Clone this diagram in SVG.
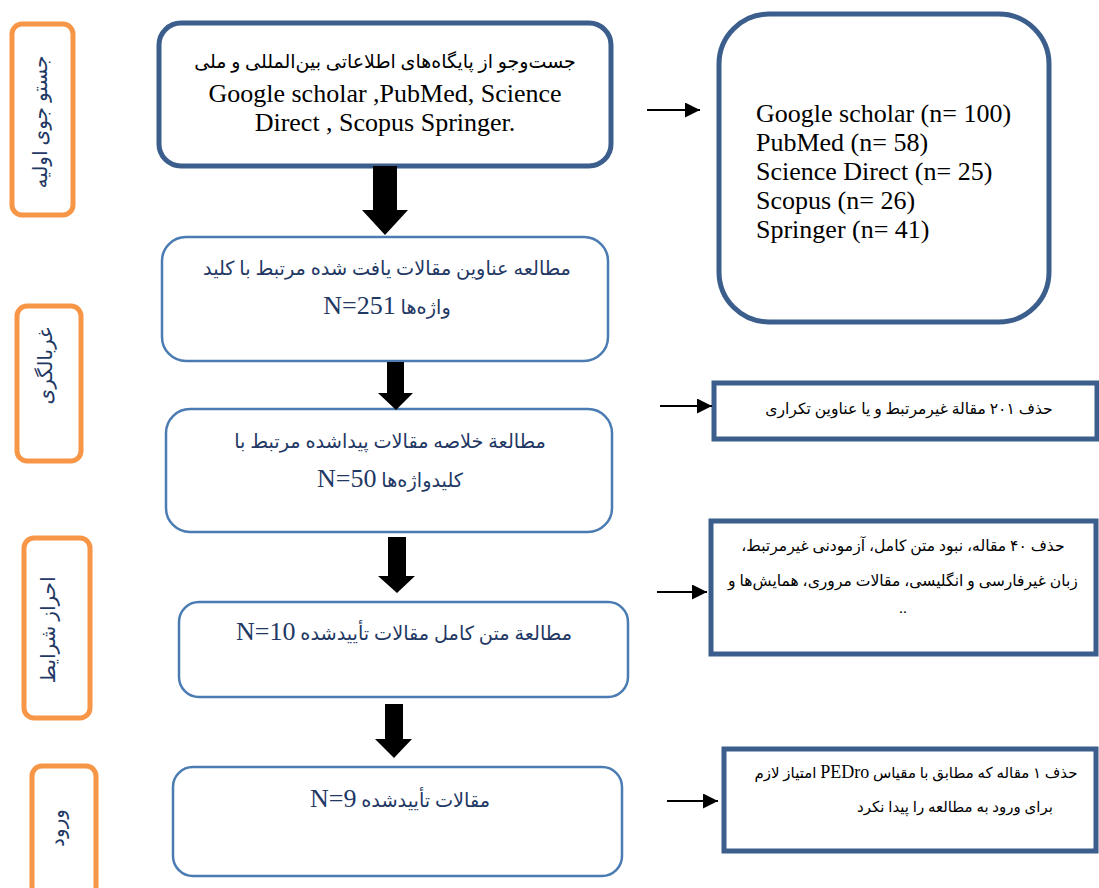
<svg xmlns="http://www.w3.org/2000/svg" width="1099" height="888" viewBox="0 0 1099 888">
<style>
.lbl{fill:#fff;stroke:#F79646;stroke-width:5}
.lt{font-family:"Liberation Serif","DejaVu Sans",sans-serif;font-size:20px;fill:#1F3864;text-anchor:middle;direction:rtl}
.mainA{fill:#fff;stroke:#3B5E8C;stroke-width:5}
.main{fill:#fff;stroke:#4A7CB3;stroke-width:2.5}
.side{fill:#fff;stroke:#3B5E8C;stroke-width:5}
.fa{font-family:"Liberation Serif","DejaVu Sans",sans-serif;text-anchor:middle;direction:rtl}
.en{font-family:"Liberation Serif","Times New Roman",serif}
.blk{fill:#000}
.blue{fill:#1F3864}
.thin{stroke:#000;stroke-width:2;fill:none}
</style>
<defs>
<marker id="ah" viewBox="0 0 10 10" refX="10" refY="5" markerWidth="17" markerHeight="15" markerUnits="userSpaceOnUse" orient="auto">
<path d="M0,0 L10,5 L0,10 z" fill="#000"/>
</marker>
</defs>
<g id="label-search">
<rect class="lbl" x="12" y="24" width="61" height="191" rx="10"/>
<text class="lt" transform="translate(47,122) rotate(-90)">جستو جوی اولیه</text>
</g>
<g id="label-screening">
<rect class="lbl" x="17" y="306" width="64" height="155" rx="10"/>
<text class="lt" transform="translate(52,366) rotate(-90)">غربالگری</text>
</g>
<g id="label-eligibility">
<rect class="lbl" x="24" y="538" width="66" height="180" rx="10"/>
<text class="lt" transform="translate(55,630) rotate(-90)">احراز شرایط</text>
</g>
<g id="label-included">
<rect class="lbl" x="32" y="766" width="64" height="140" rx="10"/>
<text class="lt" transform="translate(64,828) rotate(-90)">ورود</text>
</g>
<g id="node-search">
<rect class="mainA" x="159" y="23" width="452" height="143" rx="22"/>
<text class="fa blk" x="385" y="68" font-size="19">جست‌وجو از پایگاه‌های اطلاعاتی بین‌المللی و ملی</text>
<text class="en blk" x="385" y="102" font-size="26" text-anchor="middle">Google scholar ,PubMed, Science</text>
<text class="en blk" x="385" y="131" font-size="26" text-anchor="middle">Direct , Scopus Springer.</text>
</g>
<g id="node-databases">
<rect class="side" x="719" y="14" width="330" height="308" rx="50"/>
<text class="en blk" x="756" y="122" font-size="26">Google scholar (n= 100)</text>
<text class="en blk" x="756" y="151" font-size="26">PubMed (n= 58)</text>
<text class="en blk" x="756" y="180" font-size="26">Science Direct (n= 25)</text>
<text class="en blk" x="756" y="209" font-size="26">Scopus (n= 26)</text>
<text class="en blk" x="756" y="238" font-size="26">Springer (n= 41)</text>
</g>
<g id="node-titles">
<rect class="main" x="162" y="237" width="446" height="124" rx="24"/>
<text class="fa blue" x="387" y="275" font-size="19.3">مطالعه عناوین مقالات یافت شده مرتبط با کلید</text>
<text class="fa blue" x="387" y="314" font-size="19.3">واژه‌ها <tspan font-size="26">N=251</tspan></text>
</g>
<g id="node-abstracts">
<rect class="main" x="166" y="409" width="446" height="123" rx="24"/>
<text class="fa blue" x="390" y="448" font-size="19.3">مطالعة خلاصه مقالات پیداشده مرتبط با</text>
<text class="fa blue" x="390" y="487" font-size="19.3">کلیدواژه‌ها <tspan font-size="26">N=50</tspan></text>
</g>
<g id="node-fulltext">
<rect class="main" x="179" y="602" width="449" height="95" rx="20"/>
<text class="fa blue" x="404" y="640" font-size="19.3">مطالعة متن کامل مقالات تأییدشده <tspan font-size="26">N=10</tspan></text>
</g>
<g id="node-included">
<rect class="main" x="173" y="767" width="449" height="109" rx="20"/>
<text class="fa blue" x="400" y="807" font-size="19.3">مقالات تأییدشده <tspan font-size="26">N=9</tspan></text>
</g>
<g id="node-excl1">
<rect class="side" x="714" y="383" width="383" height="56"/>
<text class="fa blk" x="909" y="414" font-size="15.6">حذف ۲۰۱ مقالة غیرمرتبط و یا عناوین تکراری</text>
</g>
<g id="node-excl2">
<rect class="side" x="711" y="521" width="385" height="133"/>
<text class="fa blk" x="903" y="551" font-size="15.6">حذف ۴۰ مقاله، نبود متن کامل، آزمودنی غیرمرتبط،</text>
<text class="fa blk" x="903" y="586" font-size="15.6">زبان غیرفارسی و انگلیسی، مقالات مروری، همایش‌ها و</text>
<text class="fa blk" x="903" y="613" font-size="15.6">..</text>
</g>
<g id="node-excl3">
<rect class="side" x="724" y="749" width="372" height="102"/>
<text class="fa blk" x="916" y="778" font-size="15">حذف ۱ مقاله که مطابق با مقیاس <tspan font-size="18">PEDro</tspan> امتیاز لازم</text>
<text class="fa blk" x="955" y="812" font-size="15">برای ورود به مطالعه را پیدا نکرد</text>
</g>
<g id="connectors">
<path class="blk" d="M373,166 H397 V210 H408 L385,235 L362,210 H373 Z"/>
<path class="blk" d="M387,362 H404 V393 H413 L396,410 L378,393 H387 Z"/>
<path class="blk" d="M388,537 H406 V576 H415 L397,593 L378,576 H388 Z"/>
<path class="blk" d="M385,704 H403 V739 H412 L394,758 L375,739 H385 Z"/>
<line class="thin" x1="647" y1="110" x2="700" y2="110" marker-end="url(#ah)"/>
<line class="thin" x1="660" y1="406" x2="712" y2="406" marker-end="url(#ah)"/>
<line class="thin" x1="657" y1="592" x2="707" y2="592" marker-end="url(#ah)"/>
<line class="thin" x1="667" y1="801" x2="718" y2="801" marker-end="url(#ah)"/>
</g>
</svg>
